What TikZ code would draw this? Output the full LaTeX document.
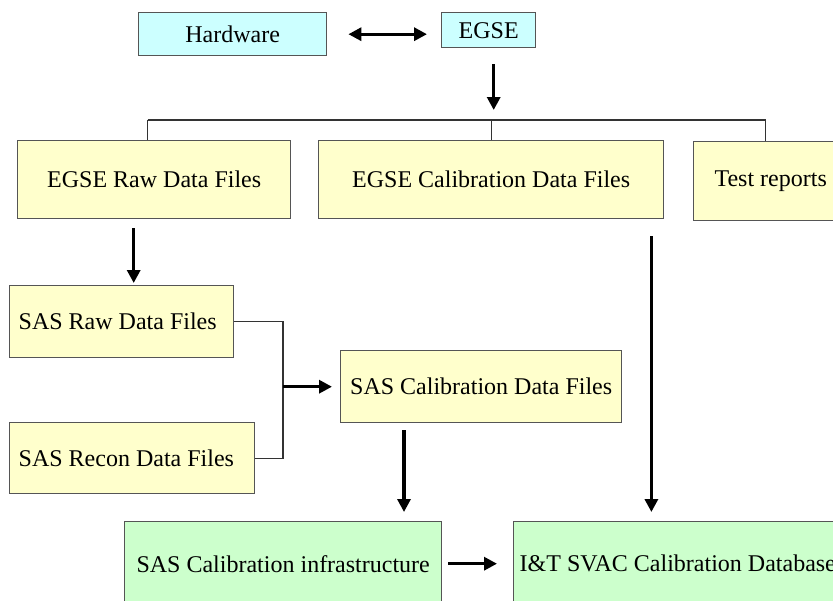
\documentclass[tikz,border=0pt]{standalone}
\usepackage{fontspec}
\setmainfont{Liberation Serif}
\usetikzlibrary{arrows.meta,calc}

\definecolor{hwcyan}{HTML}{CCFFFF}
\definecolor{fileyellow}{HTML}{FFFFCC}
\definecolor{calgreen}{HTML}{CCFFCC}
\definecolor{edgegray}{HTML}{555555}
\definecolor{wiregray}{HTML}{333333}

\tikzset{
  box/.style={draw=edgegray, line width=1.4pt, inner sep=0pt, anchor=north west,
    font=\fontsize{24}{28}\selectfont},
  cyanbox/.style={box, fill=hwcyan},
  yellowbox/.style={box, fill=fileyellow},
  greenbox/.style={box, fill=calgreen},
  lefttext/.style={align=flush left, inner xsep=10pt, inner ysep=0pt},
  wire/.style={draw=wiregray, line width=1.3pt},
  arr/.style={line width=3.2pt, -{Triangle[length=13pt,width=13pt]}},
  dblarr/.style={line width=3.2pt, {Triangle[length=13pt,width=13pt]}-{Triangle[length=13pt,width=13pt]}}
}

\begin{document}
\begin{tikzpicture}[x=1pt,y=-1pt]
\useasboundingbox (0,0) rectangle (833,600);
\clip (0,0) rectangle (833,600);

% top row
\node[cyanbox, minimum width=188pt, minimum height=43pt] (hw) at (138,12) {Hardware};
\node[cyanbox, minimum width=94pt, minimum height=35pt] (egse) at (441,12) {EGSE};

% EGSE products
\node[yellowbox, minimum width=273pt, minimum height=78pt] (egseraw) at (17,140) {EGSE Raw Data Files};
\node[yellowbox, minimum width=345pt, minimum height=78pt] (egsecal) at (318,140) {EGSE Calibration Data Files};
\node[yellowbox, minimum width=154pt, minimum height=79pt] (test) at (693,141) {Test reports};

% SAS files
\node[yellowbox, lefttext, inner xsep=9pt, text width=206pt, minimum height=72pt] (sasraw) at (9,285) {SAS Raw Data Files};
\node[yellowbox, lefttext, inner xsep=9pt, text width=227pt, minimum height=71pt] (sasrecon) at (9,422) {SAS Recon Data Files};
\node[yellowbox, minimum width=281pt, minimum height=72pt] (sascal) at (340,350) {SAS Calibration Data Files};

% calibration end points
\node[greenbox, minimum width=317pt, minimum height=84pt] (infra) at (124,521) {SAS Calibration infrastructure};
\node[greenbox, lefttext, inner xsep=6pt, text width=325pt, minimum height=84pt] (itdb) at (513,521) {I\&T SVAC Calibration Database};

% hardware <-> EGSE
\draw[dblarr, shorten <=21pt, shorten >=14pt] (hw.east) -- (hw.east -| egse.west);

% distribution bus below EGSE
\coordinate (busL) at ([xshift=-6.5pt,yshift=20pt]egseraw.north);
\coordinate (busR) at ([xshift=-5pt,yshift=21pt]test.north);
\draw[arr, shorten >=10pt] ([xshift=5pt,yshift=-16pt]egse.south) coordinate (e1) -- (e1 |- busL);
\draw[wire] (busL) -- (busR);
\draw[wire] (busL) -- (busL |- egseraw.north);
\draw[wire] (egsecal.north |- busL) -- (egsecal.north);
\draw[wire] (busR) -- (busR |- test.north);

% raw EGSE data feeds SAS raw data
\draw[arr, shorten >=2pt] ([xshift=-20.5pt,yshift=-9pt]egseraw.south) coordinate (r1) -- (r1 |- sasraw.north);

% raw + recon merge into calibration data
\coordinate (j) at ([xshift=-57pt]sascal.west);
\draw[wire] (sasraw.east) -| (j) |- (sasrecon.east);
\draw[arr, shorten >=8pt] (j) -- (sascal.west);

% calibration flows to the database
\draw[arr, shorten >=9pt] ([xshift=64pt,yshift=-7pt]sascal.south west) coordinate (c2) -- (c2 |- infra.north);
\draw[arr, shorten >=9pt] ([xshift=-13pt,yshift=-17pt]egsecal.south east) coordinate (c1) -- (c1 |- itdb.north);
\draw[arr, shorten <=6pt, shorten >=16pt] (infra.east) -- (itdb.west);
\end{tikzpicture}
\end{document}
